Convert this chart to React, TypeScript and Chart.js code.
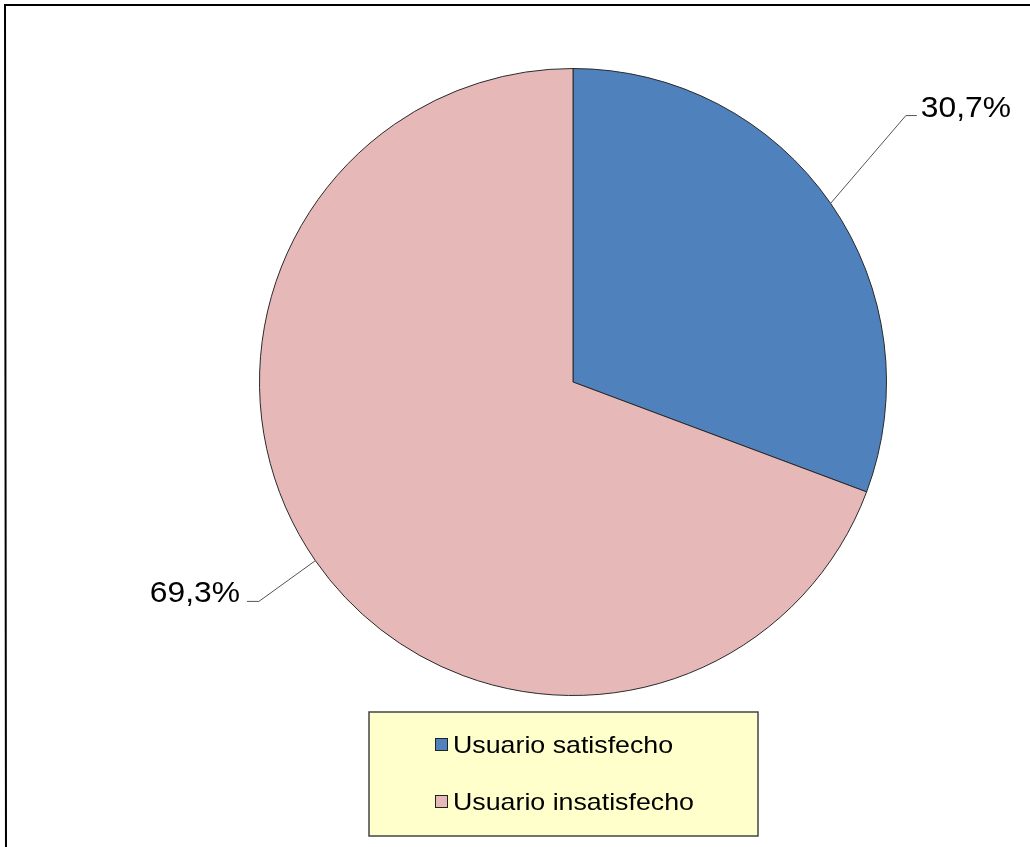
import React, { useEffect, useRef } from "react";
import { Chart, registerables } from "chart.js";

Chart.register(...registerables);

const categories = ["Usuario satisfecho", "Usuario insatisfecho"];
const values = [30.7, 69.3];
const colors = ["#4F81BD", "#E6B9B8"];
// leader elbow offsets from the slice edge point, in units of radius
const leaderElbows = [
  [0.24, -0.28],
  [-0.18, 0.13],
];

const W = 1030;
const H = 847;
const FONT = "'Liberation Sans', Arial, sans-serif";

const fmt = (v: number) => v.toFixed(1).replace(".", ",") + "%";

function stretchedText(ctx: any, text: string, x: number, y: number, sx: number, align: "left" | "right") {
  ctx.save();
  ctx.translate(x, y);
  ctx.scale(sx, 1);
  ctx.textAlign = align;
  ctx.textBaseline = "alphabetic";
  ctx.fillText(text, 0, 0);
  ctx.restore();
}

const decorPlugin = {
  id: "decor",
  beforeDraw(chart: any) {
    const ctx = chart.ctx;
    ctx.save();
    ctx.fillStyle = "#ffffff";
    ctx.fillRect(0, 0, W, H);
    ctx.strokeStyle = "#000000";
    ctx.lineWidth = 2;
    ctx.beginPath();
    ctx.moveTo(4, 5);
    ctx.lineTo(W, 5);
    ctx.moveTo(5, 4);
    ctx.lineTo(6, H);
    ctx.stroke();
    ctx.restore();
  },
  afterDatasetsDraw(chart: any) {
    const ctx = chart.ctx;
    const arcs = chart.getDatasetMeta(0).data;
    ctx.save();
    arcs.forEach((arc: any, i: number) => {
      const { x, y, outerRadius, startAngle, endAngle } = arc.getProps(
        ["x", "y", "outerRadius", "startAngle", "endAngle"],
        true
      );
      const mid = (startAngle + endAngle) / 2;
      const px = x + Math.cos(mid) * outerRadius;
      const py = y + Math.sin(mid) * outerRadius;
      const ex = px + leaderElbows[i][0] * outerRadius;
      const ey = py + leaderElbows[i][1] * outerRadius;
      const right = Math.cos(mid) >= 0;
      const hx = ex + (right ? 11 : -12);
      ctx.strokeStyle = "#555555";
      ctx.lineWidth = 1;
      ctx.beginPath();
      ctx.moveTo(px, py);
      ctx.lineTo(ex, ey);
      ctx.lineTo(hx, ey);
      ctx.stroke();
      ctx.fillStyle = "#000000";
      ctx.font = `30px ${FONT}`;
      stretchedText(ctx, fmt(values[i]), hx + (right ? 4 : -7), ey + 1, 1.06, right ? "left" : "right");
    });

    // legend box
    const lx = 369, ly = 712, lw = 389, lh = 124;
    ctx.fillStyle = "#FFFFCC";
    ctx.fillRect(lx, ly, lw, lh);
    ctx.strokeStyle = "#444444";
    ctx.lineWidth = 1.5;
    ctx.strokeRect(lx, ly, lw, lh);
    categories.forEach((c, i) => {
      const base = 753 + i * 57;
      ctx.fillStyle = colors[i];
      ctx.fillRect(435, base - 15, 13, 13);
      ctx.strokeStyle = "#222222";
      ctx.lineWidth = 1;
      ctx.strokeRect(435.5, base - 14.5, 12, 12);
      ctx.fillStyle = "#000000";
      ctx.font = `24px ${FONT}`;
      stretchedText(ctx, c, 453, base, 1.115, "left");
    });
    ctx.restore();
  },
};

export default function App() {
  const ref = useRef<HTMLCanvasElement>(null);
  useEffect(() => {
    if (!ref.current) return;
    const chart = new Chart(ref.current, {
      type: "pie",
      data: {
        labels: categories,
        datasets: [
          {
            data: values,
            backgroundColor: colors,
            borderColor: "#2a2a2a",
            borderWidth: 1,
          },
        ],
      },
      options: {
        responsive: false,
        animation: false,
        devicePixelRatio: 1,
        layout: { padding: { left: 259, right: 143, top: 68, bottom: 151 } },
        plugins: {
          legend: { display: false },
          tooltip: { enabled: false },
        },
      },
      plugins: [decorPlugin],
    } as any);
    return () => chart.destroy();
  }, []);
  return (
    <div style={{ position: "fixed", left: 0, top: 0, width: W, height: H, background: "#fff" }}>
      <canvas ref={ref} width={W} height={H} style={{ width: W, height: H, display: "block" }} />
    </div>
  );
}
